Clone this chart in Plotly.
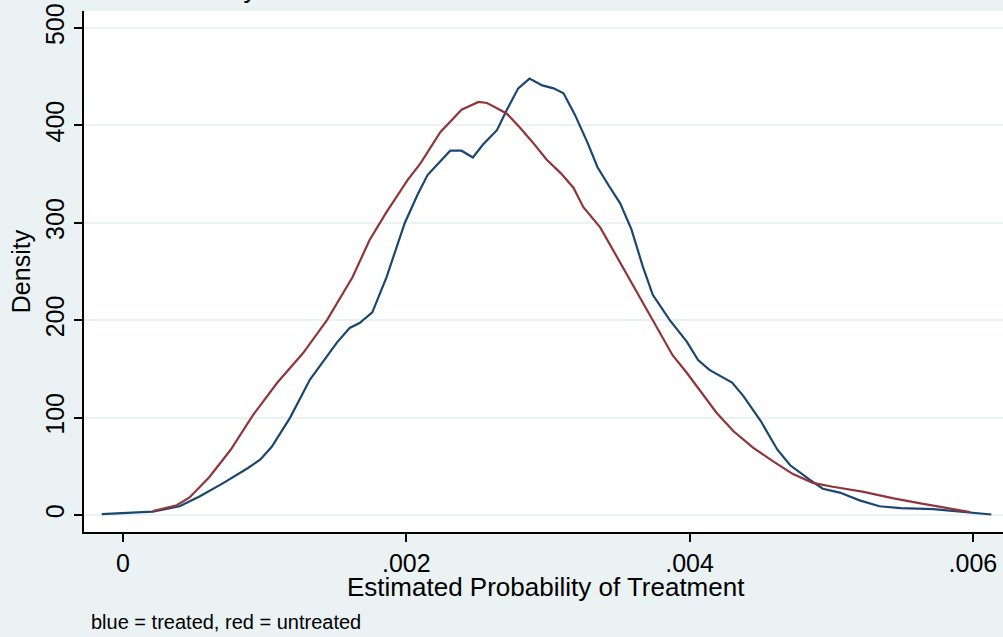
import plotly.graph_objects as go

# Treated (blue) density curve
treated_x = [-0.00015, 0.00021, 0.0004, 0.00054, 0.00071, 0.00088, 0.00097, 0.00105, 0.00118, 0.00132,
             0.00151, 0.0016, 0.00167, 0.00176, 0.00186, 0.00199, 0.00208, 0.00215, 0.00231, 0.00239,
             0.00247, 0.00254, 0.00264, 0.00271, 0.00279, 0.00287, 0.00296, 0.00304, 0.00311, 0.00319,
             0.00328, 0.00335, 0.00343, 0.00351, 0.00359, 0.00367, 0.00374, 0.00386, 0.00398, 0.00406,
             0.00414, 0.0043, 0.00438, 0.0045, 0.00462, 0.00471, 0.00485, 0.00494, 0.00506, 0.0052,
             0.00534, 0.00549, 0.00572, 0.00596, 0.00613]
treated_y = [1, 3.4, 9, 19, 33, 48, 57, 70, 100, 139,
             177, 192, 197, 208, 244, 300, 329, 349, 374, 374,
             367, 380, 395, 416, 438, 448, 441, 438, 433, 411,
             382, 357, 338, 320, 293, 255, 226, 200, 178, 159,
             149, 136, 122, 97, 67, 51, 36, 27, 23, 15,
             9, 7, 6, 3, 0.5]

# Untreated (red) density curve
untreated_x = [0.00021, 0.00038, 0.00047, 0.00061, 0.00076, 0.00092, 0.00109, 0.00127, 0.00144, 0.00162,
               0.00174, 0.00186, 0.00201, 0.0021, 0.00224, 0.00239, 0.00251, 0.00257, 0.00266, 0.00271,
               0.0028, 0.00289, 0.00299, 0.00309, 0.00318, 0.00325, 0.00337, 0.00346, 0.00358, 0.0037,
               0.00379, 0.00388, 0.00398, 0.00407, 0.00419, 0.00431, 0.00445, 0.00459, 0.00473, 0.00487,
               0.00501, 0.00522, 0.00544, 0.00563, 0.00582, 0.00598]
untreated_y = [4, 10, 18, 39, 67, 103, 136, 166, 200, 244,
               282, 311, 344, 361, 393, 416, 424, 423, 416, 412,
               398, 383, 365, 351, 336, 316, 295, 272, 241, 210,
               187, 164, 146, 128, 105, 86, 69, 55, 42, 33,
               29, 24, 17, 12, 7, 3]

x_tickvals = [0, 0.002, 0.004, 0.006]
x_ticktext = ["0", ".002", ".004", ".006"]
y_tickvals = [0, 100, 200, 300, 400, 500]
y_ticktext = ["0", "100", "200", "300", "400", "500"]

BG = "#EAF2F3"
FONT = "Liberation Sans, Arial, sans-serif"

fig = go.Figure()
fig.add_trace(go.Scatter(x=treated_x, y=treated_y, mode="lines",
                         line=dict(color="#1a476f", width=2.2), name="treated"))
fig.add_trace(go.Scatter(x=untreated_x, y=untreated_y, mode="lines",
                         line=dict(color="#90353b", width=2.2), name="untreated"))

fig.update_layout(
    width=1003, height=637,
    paper_bgcolor=BG, plot_bgcolor="white",
    margin=dict(l=84, r=0, t=11, b=105),
    showlegend=False,
    font=dict(family=FONT, color="black", size=25),
)
fig.update_xaxes(
    range=[-0.0002753, 0.0062125],
    tickvals=x_tickvals, ticktext=x_ticktext,
    showgrid=False, zeroline=False,
    showline=True, linecolor="black", linewidth=1.5,
    ticks="outside", ticklen=8, tickwidth=1.5, tickcolor="black",
    tickfont=dict(size=25),
)
fig.update_yaxes(
    range=[-17.45, 517.4],
    tickvals=y_tickvals, ticktext=y_ticktext, tickangle=-90,
    showgrid=True, gridcolor=BG, gridwidth=2, zeroline=False,
    showline=True, linecolor="black", linewidth=1.5,
    ticks="outside", ticklen=8, tickwidth=1.5, tickcolor="black",
    tickfont=dict(size=25),
    title=dict(text="Density", font=dict(size=25), standoff=4),
)
fig.add_annotation(text="Estimated Probability of Treatment", xref="paper", yref="paper",
                   x=(546 - 84) / 919, y=-(587 - 532) / 521, xanchor="center", yanchor="middle",
                   showarrow=False, font=dict(size=26))
fig.add_annotation(text="blue = treated, red = untreated", xref="paper", yref="paper",
                   x=(89 - 84) / 919, y=-(622 - 532) / 521, xanchor="left", yanchor="middle",
                   showarrow=False, font=dict(size=20))
fig.add_annotation(text="Kernel density", xref="paper", yref="paper",
                   x=(260 - 84) / 919, y=1 + (11 + 12) / 521, xanchor="right", yanchor="middle",
                   showarrow=False, font=dict(size=27))

fig.write_html("out.html", config={"displayModeBar": False},
               post_script="document.body.style.margin='0';document.body.style.overflow='hidden';")
